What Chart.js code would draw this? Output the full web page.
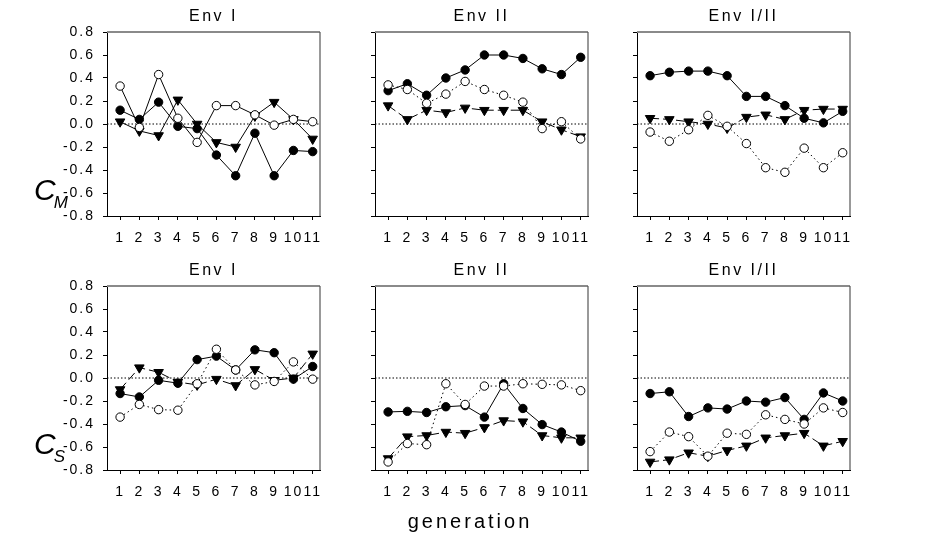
<!DOCTYPE html>
<html>
<head>
<script src="https://cdn.jsdelivr.net/npm/chart.js"></script>
<style>
  body { margin: 0; background: #fff; }
  #wrap { position: relative; width: 929px; height: 538px; font-family: "Liberation Sans", Arial, sans-serif; }
  #wrap canvas { position: absolute; }
  .ttl { position: absolute; font-size: 16px; letter-spacing: 2.5px; text-align: center; color: #000; }
  .ylab { position: absolute; font-style: italic; font-size: 30px; color: #000; }
  .ylab sub { font-size: 17px; vertical-align: -8px; margin-left: -2px; }
  #xlab { position: absolute; left: 370px; top: 510px; width: 200px; text-align: center; font-size: 20px; letter-spacing: 3px; }
</style>
</head>
<body>
<div id="wrap"></div>

<script>
const generations = [1, 2, 3, 4, 5, 6, 7, 8, 9, 10, 11];
const yTicks = [-0.8, -0.6, -0.4, -0.2, 0.0, 0.2, 0.4, 0.6, 0.8];
const envTitles = ['Env I', 'Env II', 'Env I/II'];

// C_M (top row)
const cmEnv1Filled = [0.12, 0.04, 0.19, -0.02, -0.04, -0.27, -0.45, -0.08, -0.45, -0.23, -0.24];
const cmEnv1Open   = [0.33, -0.03, 0.43, 0.05, -0.16, 0.16, 0.16, 0.08, -0.01, 0.04, 0.02];
const cmEnv1Tri    = [0.02, -0.06, -0.10, 0.21, 0.0, -0.16, -0.20, 0.07, 0.19, 0.04, -0.13];

const cmEnv2Filled = [0.29, 0.35, 0.25, 0.40, 0.47, 0.60, 0.60, 0.57, 0.48, 0.43, 0.58];
const cmEnv2Open   = [0.34, 0.30, 0.18, 0.26, 0.37, 0.30, 0.25, 0.19, -0.04, 0.02, -0.13];
const cmEnv2Tri    = [0.16, 0.04, 0.12, 0.10, 0.14, 0.12, 0.12, 0.12, 0.02, -0.05, -0.11];

const cmEnv12Filled = [0.42, 0.45, 0.46, 0.46, 0.42, 0.24, 0.24, 0.16, 0.05, 0.01, 0.11];
const cmEnv12Open   = [-0.07, -0.15, -0.05, 0.075, -0.02, -0.17, -0.38, -0.42, -0.21, -0.38, -0.25];
const cmEnv12Tri    = [0.05, 0.04, 0.02, 0.0, -0.035, 0.06, 0.08, 0.04, 0.12, 0.13, 0.13];

// C_S (bottom row)
const csEnv1Filled = [-0.135, -0.165, -0.02, -0.045, 0.16, 0.19, 0.07, 0.245, 0.22, -0.01, 0.10];
const csEnv1Open   = [-0.34, -0.23, -0.275, -0.28, -0.05, 0.25, 0.07, -0.06, -0.03, 0.14, -0.01];
const csEnv1Tri    = [-0.10, 0.09, 0.05, -0.035, -0.06, -0.01, -0.065, 0.075, -0.02, 0.0, 0.21];

const csEnv2Filled = [-0.295, -0.29, -0.30, -0.25, -0.24, -0.34, -0.05, -0.265, -0.405, -0.47, -0.55];
const csEnv2Open   = [-0.73, -0.57, -0.58, -0.05, -0.23, -0.07, -0.07, -0.05, -0.055, -0.06, -0.11];
const csEnv2Tri    = [-0.70, -0.51, -0.50, -0.47, -0.48, -0.43, -0.37, -0.38, -0.50, -0.52, -0.52];

const csEnv12Filled = [-0.135, -0.12, -0.335, -0.26, -0.27, -0.20, -0.21, -0.17, -0.36, -0.13, -0.20];
const csEnv12Open   = [-0.64, -0.47, -0.51, -0.68, -0.48, -0.49, -0.32, -0.36, -0.40, -0.26, -0.30];
const csEnv12Tri    = [-0.73, -0.71, -0.65, -0.68, -0.63, -0.59, -0.52, -0.50, -0.48, -0.59, -0.55];

const panels = [
  [cmEnv1Filled, cmEnv1Open, cmEnv1Tri],
  [cmEnv2Filled, cmEnv2Open, cmEnv2Tri],
  [cmEnv12Filled, cmEnv12Open, cmEnv12Tri],
  [csEnv1Filled, csEnv1Open, csEnv1Tri],
  [csEnv2Filled, csEnv2Open, csEnv2Tri],
  [csEnv12Filled, csEnv12Open, csEnv12Tri]
];

const colLeft = [107, 375, 637];
const rowTop = [32, 286];
const plotW = 213, plotH = 184;
const padL = 55, padT = 10, padR = 10, padB = 36;

const wrap = document.getElementById('wrap');

const framePlugin = {
  id: 'frame',
  beforeDraw(chart) { chart.ctx.letterSpacing = '2px'; },
  beforeDatasetsDraw(chart) {
    const a = chart.chartArea, ctx = chart.ctx;
    const y0 = chart.scales.y.getPixelForValue(0);
    ctx.save();
    ctx.strokeStyle = '#000';
    ctx.lineWidth = 1;
    ctx.setLineDash([1.5, 2]);
    ctx.beginPath();
    ctx.moveTo(a.left, y0);
    ctx.lineTo(a.right, y0);
    ctx.stroke();
    ctx.setLineDash([]);
    ctx.strokeStyle = '#8a8a8a';
    ctx.lineWidth = 2;
    ctx.beginPath();
    ctx.moveTo(a.left, a.top);
    ctx.lineTo(a.right, a.top);
    ctx.stroke();
    ctx.strokeStyle = '#555';
    ctx.lineWidth = 1.2;
    ctx.beginPath();
    ctx.moveTo(a.right, a.top);
    ctx.lineTo(a.right, a.bottom);
    ctx.stroke();
    ctx.restore();
  }
};

function series(vals) {
  return vals.map((v, i) => ({ x: generations[i], y: v }));
}

panels.forEach(function (p, idx) {
  const row = Math.floor(idx / 3), col = idx % 3;
  const cv = document.createElement('canvas');
  cv.width = plotW + padL + padR;
  cv.height = plotH + padT + padB;
  cv.style.left = (colLeft[col] - padL) + 'px';
  cv.style.top = (rowTop[row] - padT) + 'px';
  wrap.appendChild(cv);

  const t = document.createElement('div');
  t.className = 'ttl';
  t.textContent = envTitles[col];
  t.style.left = colLeft[col] + 'px';
  t.style.width = plotW + 'px';
  t.style.top = (rowTop[row] - 25) + 'px';
  wrap.appendChild(t);

  // open circles use a solid line in the first panel, dotted elsewhere
  const openDash = idx === 0 ? [] : [1.5, 3];
  const triDash = idx === 0 ? [] : [9, 4];

  new Chart(cv, {
    type: 'line',
    data: {
      datasets: [
        {
          data: series(p[1]), borderColor: '#000', borderWidth: 1, borderDash: openDash,
          pointStyle: 'circle', pointRadius: 4.2, pointBackgroundColor: '#fff',
          pointBorderColor: '#000', pointBorderWidth: 1
        },
        {
          data: series(p[2]), borderColor: '#000', borderWidth: 1, borderDash: triDash,
          pointStyle: 'triangle', rotation: 180, pointRadius: 5.5, pointBackgroundColor: '#000',
          pointBorderColor: '#000', pointBorderWidth: 1
        },
        {
          data: series(p[0]), borderColor: '#000', borderWidth: 1,
          pointStyle: 'circle', pointRadius: 4.2, pointBackgroundColor: '#000',
          pointBorderColor: '#000', pointBorderWidth: 1
        }
      ]
    },
    options: {
      responsive: false,
      animation: false,
      clip: false,
      layout: { padding: { top: padT, right: padR, left: 0, bottom: 0 } },
      plugins: { legend: { display: false }, tooltip: { enabled: false } },
      scales: {
        x: {
          type: 'linear', min: 0.32, max: 11.38,
          afterBuildTicks: s => { s.ticks = generations.map(v => ({ value: v })); },
          afterFit: s => { s.height = padB; s.paddingLeft = 0; s.paddingRight = 0; },
          grid: { drawOnChartArea: false, drawTicks: true, tickLength: 4, color: '#000' },
          border: { display: true, color: '#000', width: 1 },
          ticks: { color: '#000', font: { family: 'Liberation Sans', size: 14 }, padding: 10, maxRotation: 0, autoSkip: false }
        },
        y: {
          min: -0.8, max: 0.8,
          afterBuildTicks: s => { s.ticks = yTicks.map(v => ({ value: v })); },
          afterFit: s => { s.width = padL; s.paddingTop = 0; s.paddingBottom = 0; },
          grid: { drawOnChartArea: false, drawTicks: true, tickLength: 4, color: '#000' },
          border: { display: true, color: '#000', width: 1 },
          ticks: {
            display: col === 0, color: '#000', font: { family: 'Liberation Sans', size: 14 }, padding: 8,
            callback: v => v.toFixed(1)
          }
        }
      }
    },
    plugins: [framePlugin]
  });
});

const cm = document.createElement('div');
cm.className = 'ylab';
cm.innerHTML = 'C<sub>M</sub>';
cm.style.left = '34px';
cm.style.top = '173px';
wrap.appendChild(cm);

const cs = document.createElement('div');
cs.className = 'ylab';
cs.innerHTML = 'C<sub>S</sub>';
cs.style.left = '34px';
cs.style.top = '427px';
wrap.appendChild(cs);

const xl = document.createElement('div');
xl.id = 'xlab';
xl.textContent = 'generation';
wrap.appendChild(xl);
</script>
</body>
</html>
